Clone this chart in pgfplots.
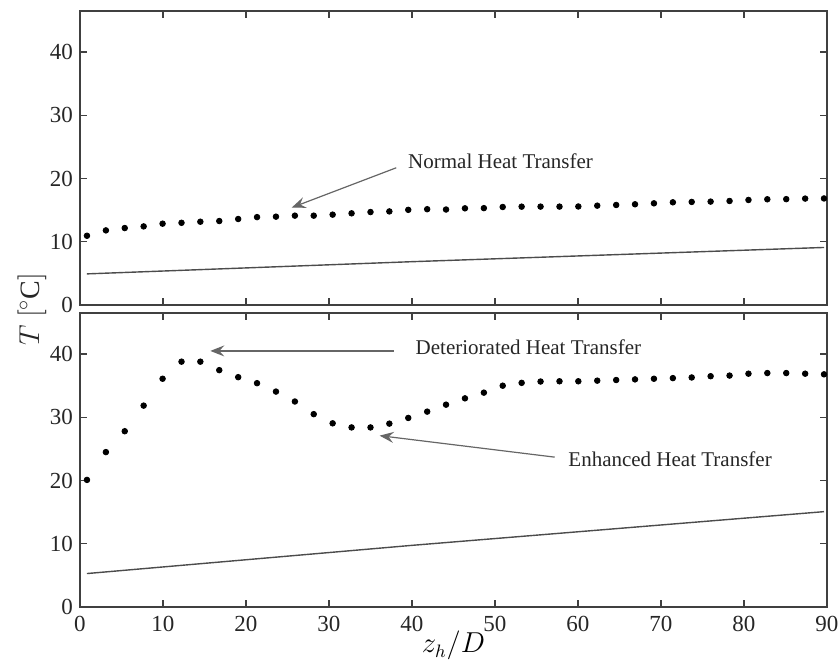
\documentclass[border=0pt]{standalone}
\usepackage{pgfplots}
\pgfplotsset{compat=1.18}
\usepackage{pgfplotstable}
\usepackage{fontspec}
\setmainfont{Liberation Serif}
\usetikzlibrary{arrows.meta}

\pgfplotstableread{
x T
0.84 10.95
3.12 11.80
5.39 12.17
7.67 12.43
9.95 12.86
12.23 13.00
14.50 13.17
16.78 13.28
19.06 13.60
21.33 13.90
23.61 13.97
25.89 14.13
28.16 14.13
30.44 14.29
32.72 14.50
35.00 14.70
37.27 14.80
39.55 15.05
41.83 15.15
44.10 15.10
46.38 15.29
48.66 15.32
50.93 15.50
53.21 15.55
55.49 15.56
57.77 15.56
60.04 15.58
62.32 15.71
64.60 15.82
66.87 15.93
69.15 16.08
71.43 16.24
73.70 16.30
75.98 16.35
78.26 16.45
80.54 16.61
82.81 16.72
85.09 16.74
87.37 16.83
89.64 16.85
}\topdots

\pgfplotstableread{
x T
0.84 20.1
3.12 24.5
5.39 27.8
7.67 31.85
9.95 36.1
12.23 38.8
14.50 38.8
16.78 37.46
19.06 36.35
21.33 35.4
23.61 34.07
25.89 32.5
28.16 30.5
30.44 29.05
32.72 28.4
35.00 28.4
37.27 29.0
39.55 29.9
41.83 30.9
44.10 32.0
46.38 33.0
48.66 33.9
50.93 35.0
53.21 35.45
55.49 35.66
57.77 35.7
60.04 35.7
62.32 35.8
64.60 35.9
66.87 36.0
69.15 36.1
71.43 36.2
73.70 36.3
75.98 36.5
78.26 36.6
80.54 36.9
82.81 37.0
85.09 37.0
87.37 36.9
89.64 36.8
}\botdots

\pgfplotstableread{
x T
0.84 4.92
40.0 6.85
89.64 9.10
}\topline

\pgfplotstableread{
x T
0.84 5.29
40.0 9.75
89.64 15.08
}\botline

\tikzset{
  ann/.style={black!60, line width=0.6pt, -{Stealth[length=7pt,width=5.5pt,inset=2.5pt]}},
  anntext/.style={anchor=west, black!85, font=\fontsize{10.5}{12}\selectfont, inner sep=0pt},
}
\pgfplotsset{
  panel/.style={
    scale only axis,
    width=373.5pt, height=147pt,
    xmin=0, xmax=90, ymin=0, ymax=46.5,
    xtick={0,10,...,90}, ytick={0,10,...,40},
    tick align=inside,
    major tick length=3.5pt,
    axis line style={black!75, line width=0.8pt},
    every tick/.style={black!75, line width=0.6pt},
    tick label style={black!85, font=\fontsize{11.5}{13}\selectfont},
    /pgf/number format/assume math mode=true,
    xticklabel style={yshift=-1pt},
    clip=false,
  },
  dots/.style={only marks, mark=*, mark size=1.4pt, black},
}

\begin{document}
\begin{tikzpicture}
\useasboundingbox (-40pt,-27.5pt) rectangle (380pt,303.5pt);

\begin{axis}[panel, at={(0,0)}, anchor=south west,
  xlabel={$z_h/D$}, xlabel style={font=\fontsize{13.5}{15}\selectfont, yshift=7pt}]
  \addplot[black!70, line width=0.7pt] table[x=x,y=T] {\botline};
  \addplot[dots] table[x=x,y=T] {\botdots};
  \draw[ann] (axis cs:37.8,40.5) -- (axis cs:15.7,40.5);
  \node[anntext] at (axis cs:40.4,41.1) {Deteriorated Heat Transfer};
  \draw[ann] (axis cs:57.2,23.7) -- (axis cs:36.1,27.1);
  \node[anntext] at (axis cs:58.8,23.3) {Enhanced Heat Transfer};
\end{axis}

\begin{axis}[panel, at={(0,151pt)}, anchor=south west, xticklabels={}]
  \addplot[black!70, line width=0.7pt] table[x=x,y=T] {\topline};
  \addplot[dots] table[x=x,y=T] {\topdots};
  \draw[ann] (axis cs:38.1,21.7) -- (axis cs:25.5,15.4);
  \node[anntext] at (axis cs:39.5,22.7) {Normal Heat Transfer};
\end{axis}

\node[rotate=90, black!85, font=\fontsize{14}{16}\selectfont] at (-24pt,149pt) {$T\ [^\circ\mathrm{C}]$};
\end{tikzpicture}
\end{document}
